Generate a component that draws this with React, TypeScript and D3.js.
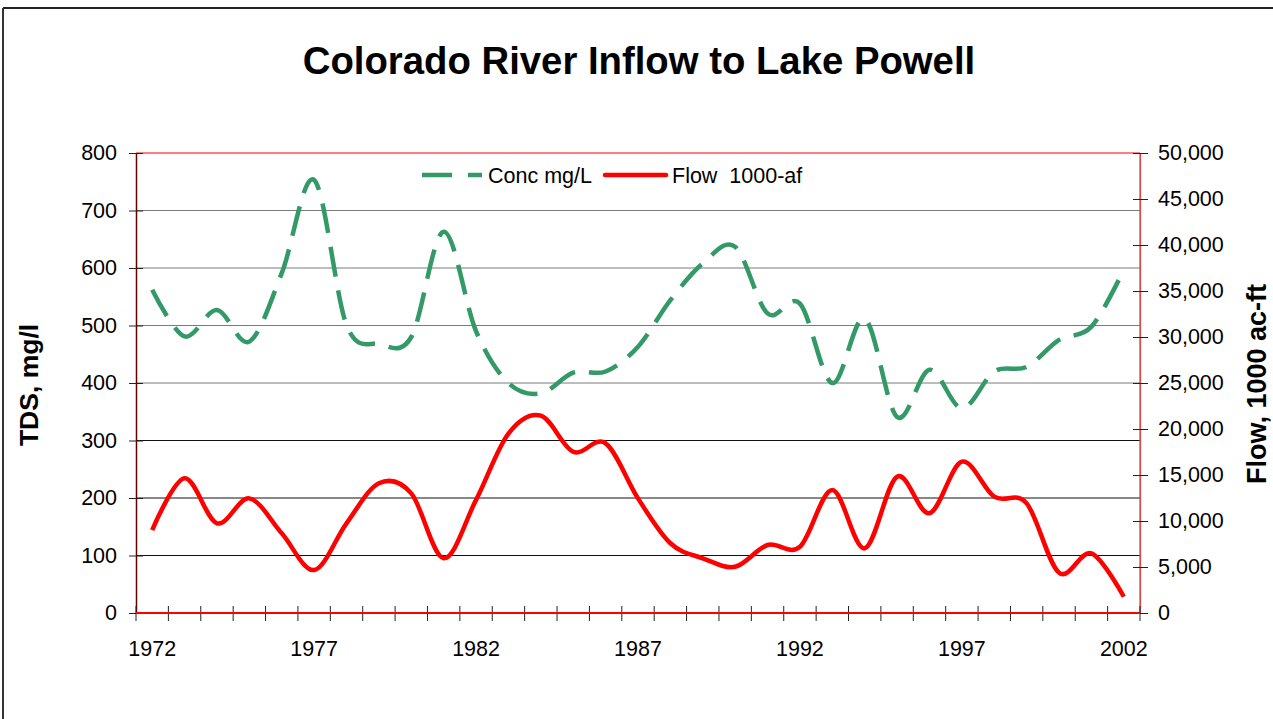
import { useEffect, useRef } from "react";
import * as d3 from "d3";

const years: number[] = d3.range(1972, 2003);

// TDS concentration, mg/L
const concValues: number[] = [
    562, 481, 527, 472, 591, 753, 501, 468, 480, 663, 490, 400, 382, 418, 420,
    463, 544, 608, 637, 521, 538, 400, 512, 341, 423, 356, 420, 428, 475, 498,
    597,
];

// Flow, 1000 acre-feet
const flowValues: number[] = [
    9020, 14640, 9750, 12460, 8660, 4670, 9750, 14100, 13000, 5950, 12300,
    19500, 21450, 17530, 18440, 12460, 7580, 5950, 5030, 7390, 7200, 13370,
    7030, 14820, 10840, 16450, 12640, 11920, 4380, 6490, 1770,
];

const yearLabels: number[] = [1972, 1977, 1982, 1987, 1992, 1997, 2002];
const leftTicks: number[] = [0, 100, 200, 300, 400, 500, 600, 700, 800];
const rightTicks: number[] = d3.range(0, 50001, 5000);

const FONT = "Arial, 'Liberation Sans', sans-serif";

export default function App() {
    const svgRef = useRef<SVGSVGElement | null>(null);

    useEffect(() => {
        document.body.style.margin = "0";

        const width = 1273;
        const height = 719;
        const plot = { left: 136, right: 1140, top: 153, bottom: 613 };

        const svg = d3.select(svgRef.current);
        svg.selectAll("*").remove();
        svg.attr("width", width).attr("height", height);

        svg.append("rect")
            .attr("width", width)
            .attr("height", height)
            .attr("fill", "#fff");

        // outer frame (only top + left show in the picture)
        svg.append("line")
            .attr("x1", 3).attr("x2", width)
            .attr("y1", 8).attr("y2", 8)
            .attr("stroke", "#222").attr("stroke-width", 2);
        svg.append("line")
            .attr("x1", 3).attr("x2", 3)
            .attr("y1", 8).attr("y2", height)
            .attr("stroke", "#333").attr("stroke-width", 2);

        const x = d3
            .scaleBand<number>()
            .domain(years)
            .range([plot.left, plot.right])
            .padding(0);

        const yLeft = d3
            .scaleLinear()
            .domain([0, 800])
            .range([plot.bottom, plot.top]);

        const yRight = d3
            .scaleLinear()
            .domain([0, 50000])
            .range([plot.bottom, plot.top]);

        const cx = (yr: number) => (x(yr) ?? 0) + x.bandwidth() / 2;

        // gridlines
        svg.append("g")
            .selectAll("line")
            .data(leftTicks.filter((t) => t > 0 && t < 800))
            .join("line")
            .attr("x1", plot.left)
            .attr("x2", plot.right)
            .attr("y1", (d) => yLeft(d))
            .attr("y2", (d) => yLeft(d))
            .attr("stroke", (d) => (d >= 400 ? "#7a7a7a" : "#111"))
            .attr("stroke-width", 1);

        // plot border
        svg.append("line")
            .attr("x1", plot.left).attr("x2", plot.right)
            .attr("y1", plot.top).attr("y2", plot.top)
            .attr("stroke", "#ff0000").attr("stroke-width", 1.2);
        svg.append("line")
            .attr("x1", plot.right).attr("x2", plot.right)
            .attr("y1", plot.top).attr("y2", plot.bottom)
            .attr("stroke", "#d84a4a").attr("stroke-width", 1.2);

        // left axis
        const leftAxis = svg.append("g")
            .attr("transform", `translate(${plot.left},0)`)
            .call(
                d3.axisLeft(yLeft)
                    .tickValues(leftTicks)
                    .tickSizeInner(7)
                    .tickSizeOuter(0)
                    .tickPadding(12)
            );
        leftAxis.select(".domain").attr("stroke", "#600000").attr("stroke-width", 1.5);
        leftAxis.selectAll(".tick line")
            .attr("x1", -7).attr("x2", 7)
            .attr("stroke", "#222");
        leftAxis.selectAll("text")
            .attr("font-family", FONT)
            .attr("font-size", 21.5)
            .attr("fill", "#000");

        // right axis
        const rightAxis = svg.append("g")
            .attr("transform", `translate(${plot.right},0)`)
            .call(
                d3.axisRight(yRight)
                    .tickValues(rightTicks)
                    .tickFormat(d3.format(","))
                    .tickSizeInner(8)
                    .tickSizeOuter(0)
                    .tickPadding(10)
            );
        rightAxis.select(".domain").attr("stroke", "#d84a4a").attr("stroke-width", 1.2);
        rightAxis.selectAll(".tick line")
            .attr("x1", -7).attr("x2", 8)
            .attr("stroke", "#222");
        rightAxis.selectAll("text")
            .attr("font-family", FONT)
            .attr("font-size", 21.5)
            .attr("fill", "#000");

        // bottom axis: ticks on category boundaries, labels every 5 years
        const boundaries = years.map((yr) => x(yr) ?? 0).concat([plot.right]);
        svg.append("g")
            .selectAll("line")
            .data(boundaries)
            .join("line")
            .attr("x1", (d) => d)
            .attr("x2", (d) => d)
            .attr("y1", plot.bottom - 7)
            .attr("y2", plot.bottom + 8)
            .attr("stroke", "#222");
        svg.append("line")
            .attr("x1", plot.left).attr("x2", plot.right)
            .attr("y1", plot.bottom).attr("y2", plot.bottom)
            .attr("stroke", "#ff0000").attr("stroke-width", 1.8);
        svg.append("g")
            .selectAll("text")
            .data(yearLabels)
            .join("text")
            .attr("x", (d) => cx(d))
            .attr("y", 649)
            .attr("text-anchor", "middle")
            .attr("dominant-baseline", "central")
            .attr("font-family", FONT)
            .attr("font-size", 21.5)
            .text((d) => d);

        // series
        const concLine = d3
            .line<number>()
            .x((_, i) => cx(years[i]))
            .y((d) => yLeft(d))
            .curve(d3.curveCardinal.tension(0));

        const flowLine = d3
            .line<number>()
            .x((_, i) => cx(years[i]))
            .y((d) => yRight(d))
            .curve(d3.curveCardinal.tension(0));

        svg.append("path")
            .datum(concValues)
            .attr("d", concLine)
            .attr("fill", "none")
            .attr("stroke", "#339966")
            .attr("stroke-width", 4.5)
            .attr("stroke-dasharray", "30 14");

        svg.append("path")
            .datum(flowValues)
            .attr("d", flowLine)
            .attr("fill", "none")
            .attr("stroke", "#ff0000")
            .attr("stroke-width", 4.5)
            .attr("stroke-linejoin", "round");

        // legend
        const legend = svg.append("g");
        legend.append("line")
            .attr("x1", 422).attr("x2", 482)
            .attr("y1", 175).attr("y2", 175)
            .attr("stroke", "#339966")
            .attr("stroke-width", 4.5)
            .attr("stroke-dasharray", "30 16");
        legend.append("text")
            .attr("x", 488).attr("y", 176)
            .attr("dominant-baseline", "central")
            .attr("font-family", FONT)
            .attr("font-size", 21.5)
            .text("Conc mg/L");
        legend.append("line")
            .attr("x1", 605).attr("x2", 666)
            .attr("y1", 175).attr("y2", 175)
            .attr("stroke", "#ff0000")
            .attr("stroke-width", 4.5)
            .attr("stroke-linecap", "round");
        legend.append("text")
            .attr("x", 672).attr("y", 176)
            .attr("dominant-baseline", "central")
            .attr("font-family", FONT)
            .attr("font-size", 21.5)
            .style("white-space", "pre")
            .text("Flow  1000-af");

        // titles
        svg.append("text")
            .attr("x", 639).attr("y", 60)
            .attr("text-anchor", "middle")
            .attr("dominant-baseline", "central")
            .attr("font-family", FONT)
            .attr("font-weight", "bold")
            .attr("font-size", 38.3)
            .text("Colorado River Inflow to Lake Powell");

        svg.append("text")
            .attr("transform", "translate(29,385) rotate(-90)")
            .attr("text-anchor", "middle")
            .attr("dominant-baseline", "central")
            .attr("font-family", FONT)
            .attr("font-weight", "bold")
            .attr("font-size", 26.5)
            .text("TDS, mg/l");

        svg.append("text")
            .attr("transform", "translate(1257,384) rotate(-90)")
            .attr("text-anchor", "middle")
            .attr("dominant-baseline", "central")
            .attr("font-family", FONT)
            .attr("font-weight", "bold")
            .attr("font-size", 27)
            .text("Flow, 1000 ac-ft");
    }, []);

    return <svg ref={svgRef} style={{ display: "block" }} />;
}
